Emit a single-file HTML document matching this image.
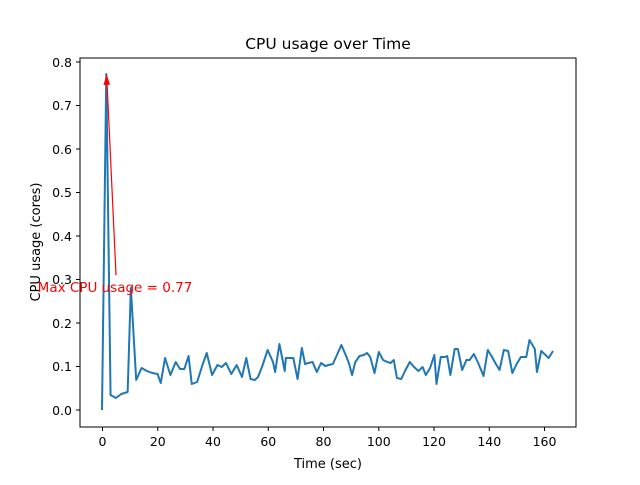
<!DOCTYPE html>
<html><head><meta charset="utf-8"><style>body{margin:0;background:#fff}</style></head><body>
<svg width="640" height="480" xmlns="http://www.w3.org/2000/svg" font-family="DejaVu Sans, sans-serif" font-size="13">
<rect width="640" height="480" fill="#fff"/>
<polyline transform="translate(102,0) scale(1.0687,1) translate(-102,0)" vector-effect="non-scaling-stroke" fill="none" stroke="#1f77b4" stroke-width="2" stroke-linejoin="round" points="102,410 106,74 110,395 115,398 120,394 126,392 129,288 134,380 139,368 144,371 149,373 154,374 157,383 161,358 166,375 171,362 175,369 179,369 183,356 186,384 191,382 196,365 200,353 205,375 210,365 214,367 218,363 223,374 228,365 233,377 237,358 241,379 245,380 248,377 252,366 257,350 262,362 264,372 268,344 273,371 274,358 278,358 281,358 285,379 289,348 292,364 295,363 299,362 303,372 307,363 311,366 314,365 318,364 321,357 326,345 330,355 333,363 336,375 339,362 343,356 347,355 350,353 353,357 357,373 361,352 365,360 369,362 372,363 375,360 378,378 382,379 386,370 390,362 394,367 398,371 402,367 405,375 409,368 413,355 415,384 419,357 423,357 425,356 428,375 432,349 435,349 439,370 443,360 446,360 450,354 454,363 459,376 463,350 467,357 470,363 474,370 478,350 482,351 486,373 490,364 494,357 499,357 502,340 507,349 509,372 513,351 517,355 520,358 524,351"/>
<rect x="80" y="58" width="496" height="369" fill="none" stroke="#000" stroke-width="1"/>
<g stroke="#000">
<line x1="102.5" y1="427" x2="102.5" y2="431"/><line x1="157.8" y1="427" x2="157.8" y2="431"/><line x1="213" y1="427" x2="213" y2="431"/><line x1="268.3" y1="427" x2="268.3" y2="431"/><line x1="323.5" y1="427" x2="323.5" y2="431"/><line x1="378.8" y1="427" x2="378.8" y2="431"/><line x1="434" y1="427" x2="434" y2="431"/><line x1="489.3" y1="427" x2="489.3" y2="431"/><line x1="544.5" y1="427" x2="544.5" y2="431"/>
<line x1="76" y1="410" x2="80" y2="410"/><line x1="76" y1="366.5" x2="80" y2="366.5"/><line x1="76" y1="323" x2="80" y2="323"/><line x1="76" y1="279.5" x2="80" y2="279.5"/><line x1="76" y1="236" x2="80" y2="236"/><line x1="76" y1="192.5" x2="80" y2="192.5"/><line x1="76" y1="149" x2="80" y2="149"/><line x1="76" y1="105.5" x2="80" y2="105.5"/><line x1="76" y1="62" x2="80" y2="62"/>
</g>
<g text-anchor="middle" font-size="12.5">
<text x="102.5" y="446">0</text><text x="157.8" y="446">20</text><text x="213" y="446">40</text><text x="268.3" y="446">60</text><text x="323.5" y="446">80</text><text x="378.8" y="446">100</text><text x="434" y="446">120</text><text x="489.3" y="446">140</text><text x="544.5" y="446">160</text>
</g>
<g text-anchor="end" font-size="12.5">
<text x="72" y="415">0.0</text><text x="72" y="371">0.1</text><text x="72" y="328">0.2</text><text x="72" y="284">0.3</text><text x="72" y="241">0.4</text><text x="72" y="197">0.5</text><text x="72" y="154">0.6</text><text x="72" y="110">0.7</text><text x="72" y="67">0.8</text>
</g>
<text x="328" y="468" text-anchor="middle" font-size="13">Time (sec)</text>
<text transform="translate(40,242) rotate(-90)" text-anchor="middle" font-size="13">CPU usage (cores)</text>
<text x="328" y="49" text-anchor="middle" font-size="15.5">CPU usage over Time</text>
<line x1="116" y1="275" x2="107" y2="82" stroke="#f00" stroke-width="1.2"/>
<polygon points="106.6,74 103.5,85 110,84.7" fill="#f00"/>
<text x="115" y="292" text-anchor="middle" fill="#f00" font-size="13.5">Max CPU usage = 0.77</text>
</svg>
</body></html>
